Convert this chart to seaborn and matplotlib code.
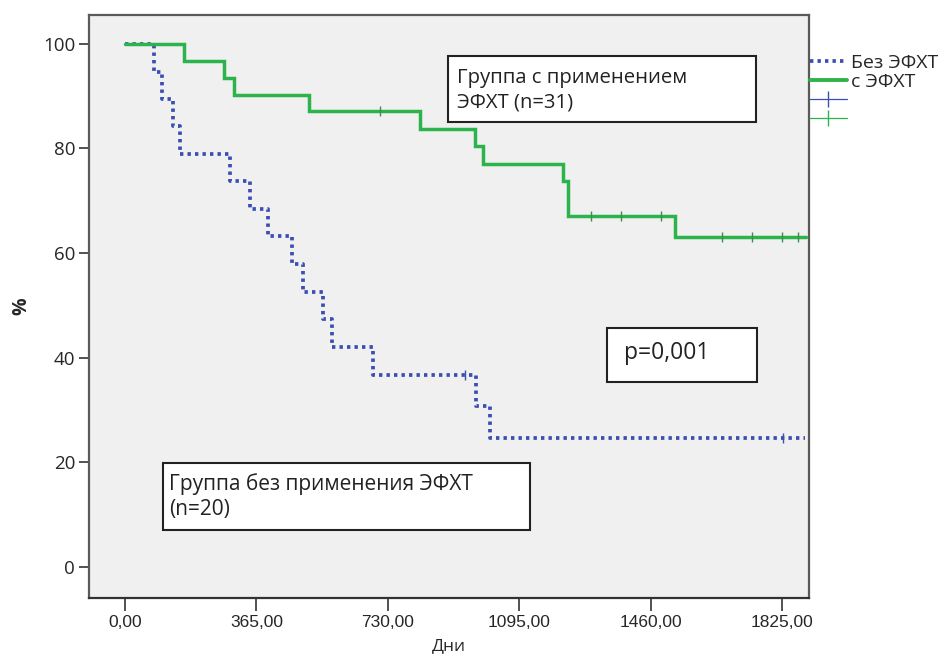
import numpy as np
import pandas as pd
import matplotlib
matplotlib.use("Agg")
import matplotlib.pyplot as plt
from matplotlib.lines import Line2D
from matplotlib.patches import Rectangle
import seaborn as sns

# ---- data ----
green_t = [0, 164, 275, 303, 511, 819, 972, 994, 1217, 1231, 1528, 1892]
green_s = [100, 96.8, 93.5, 90.3, 87.1, 83.8, 80.4, 77.0, 73.7, 67.0, 63.0, 63.0]
green_cens_t = [708, 1294, 1377, 1488, 1659, 1742, 1825, 1869]
green_cens_s = [87.1, 67.0, 67.0, 67.0, 63.0, 63.0, 63.0, 63.0]

blue_t = [0, 81, 102, 134, 153, 292, 347, 398, 463, 495, 551, 574, 690, 975, 1014, 1888]
blue_s = [100, 94.7, 89.5, 84.2, 78.9, 73.7, 68.4, 63.2, 57.9, 52.6, 47.4, 42.1, 36.8, 30.7, 24.6, 24.6]
blue_cens_t = [944, 1829]
blue_cens_s = [36.8, 24.6]

x_ticks = [0, 365, 730, 1095, 1460, 1825]
x_tick_labels = ["0,00", "365,00", "730,00", "1095,00", "1460,00", "1825,00"]
y_ticks = [0, 20, 40, 60, 80, 100]
y_tick_labels = ["0", "20", "40", "60", "80", "100"]

legend_labels = ["Без ЭФХТ", "с ЭФХТ", "", ""]
box_texts = ["Группа с применением\nЭФХТ (n=31)", "Группа без применения ЭФХТ\n(n=20)", "p=0,001"]
x_label = "Дни"
y_label = "%"

BLUE = "#3B4EB2"
GREEN = "#2DB34B"

sns.set_style("white")
plt.rcParams["font.family"] = ["Open Sans", "DejaVu Sans"]

W, H = 948, 654
fig = plt.figure(figsize=(W / 100, H / 100), dpi=100)
ax = fig.add_axes([89 / W, 1 - 598 / H, (809 - 89) / W, (598 - 15) / H])
ax.set_facecolor("#F0F0F0")

df_b = pd.DataFrame({"t": blue_t, "s": blue_s})
df_g = pd.DataFrame({"t": green_t, "s": green_s})

sns.lineplot(data=df_b, x="t", y="s", ax=ax, estimator=None, sort=True,
             drawstyle="steps-post", color=BLUE, linewidth=2.7,
             linestyle=(0, (0.9, 1.1)), dash_capstyle="butt", zorder=3)
sns.lineplot(data=df_g, x="t", y="s", ax=ax, estimator=None, sort=True,
             drawstyle="steps-post", color=GREEN, linewidth=2.5,
             solid_joinstyle="miter", zorder=4)

sns.scatterplot(x=green_cens_t, y=green_cens_s, ax=ax, marker="|", s=60,
                color="#3E8E4A", linewidth=1.0, zorder=5)
sns.scatterplot(x=blue_cens_t, y=blue_cens_s, ax=ax, marker="|", s=60,
                color=BLUE, linewidth=1.0, zorder=5)

ax.set_xlim(-100, 1900)
ax.set_ylim(-5.9, 105.5)
ax.set_xticks(x_ticks)
ax.set_xticklabels(x_tick_labels, family=["Liberation Sans", "DejaVu Sans"], fontsize=12.5)
ax.set_yticks(y_ticks)
ax.set_yticklabels(y_tick_labels, fontsize=13.5)
ax.tick_params(axis="x", bottom=True, direction="out", length=9, width=1.2, color="#333333", pad=3)
ax.tick_params(axis="y", left=True, direction="out", length=7, width=1.2, color="#333333", pad=3)
for side, sp in ax.spines.items():
    sp.set_color("#5A5A5A")
    sp.set_linewidth(1.6)
ax.spines["bottom"].set_color("#333333")
ax.set_xlabel(x_label, fontsize=12.5, labelpad=6)
ax.set_ylabel(y_label, fontsize=14, fontweight="bold", labelpad=8)
ax.grid(False)


def fig_box(x0, y0, x1, y1):
    fig.patches.append(Rectangle((x0 / W, 1 - y1 / H), (x1 - x0) / W, (y1 - y0) / H,
                                 transform=fig.transFigure, facecolor="white",
                                 edgecolor="#222222", linewidth=1.5, zorder=10))


fig_box(448, 56, 756, 122)
fig.text(457 / W, 1 - 90 / H, box_texts[0], fontsize=14.6, va="center", ha="left",
         linespacing=1.3, color="#222222", zorder=11)
fig_box(163, 463, 530, 530)
fig.text(169 / W, 1 - 497 / H, box_texts[1], fontsize=15, va="center", ha="left",
         linespacing=1.25, color="#222222", zorder=11)
fig_box(607, 328, 757, 382)
fig.text(624 / W, 1 - 353 / H, box_texts[2], fontsize=16.5, va="center", ha="left",
         color="#222222", zorder=11)

handles = [
    Line2D([], [], color=BLUE, linewidth=2.7, linestyle=(0, (0.9, 1.1))),
    Line2D([], [], color=GREEN, linewidth=2.8),
    Line2D([], [], color=BLUE, linewidth=0.9, marker="|", markersize=12, markeredgewidth=1.0),
    Line2D([], [], color=GREEN, linewidth=0.9, marker="|", markersize=12, markeredgewidth=1.0),
]
fig.legend(handles, legend_labels, loc="upper left", bbox_to_anchor=(810 / W, 1 - 54 / H),
           frameon=False, fontsize=14, handlelength=1.9, handletextpad=0.2,
           labelspacing=0.05, borderaxespad=0, borderpad=0)

fig.savefig("out.png", dpi=100, facecolor="white")
